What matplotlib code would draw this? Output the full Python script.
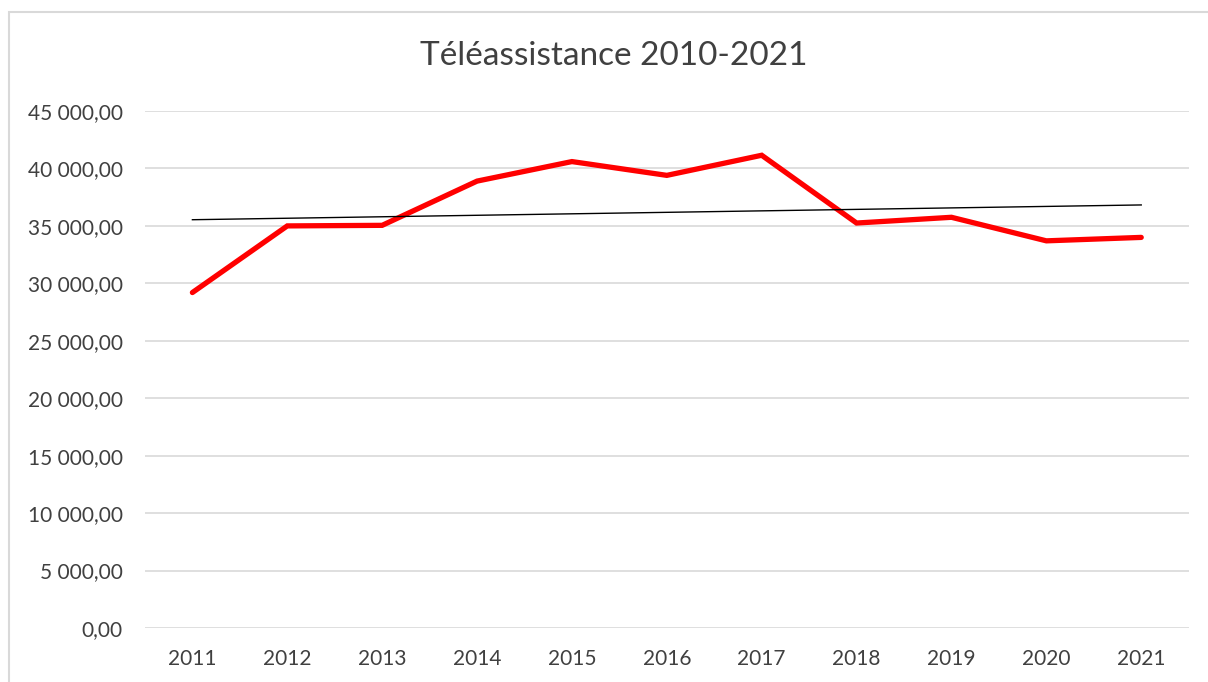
import numpy as np
import matplotlib.pyplot as plt
from matplotlib.patches import Rectangle
from matplotlib.ticker import FuncFormatter

years = ["2011", "2012", "2013", "2014", "2015", "2016",
         "2017", "2018", "2019", "2020", "2021"]
values = [29200, 35000, 35050, 38900, 40600, 39400,
          41150, 35250, 35750, 33700, 34000]
y_ticks = [0, 5000, 10000, 15000, 20000, 25000, 30000, 35000, 40000, 45000]

plt.rcParams['font.family'] = ['Lato', 'DejaVu Sans']
text_color = "#404040"


def fr_format(v, pos):
    # French style number: space for thousands, comma for decimals
    s = f"{v:,.2f}"
    return s.replace(",", " ").replace(".", ",")


fig = plt.figure(figsize=(12.08, 6.82), dpi=100)
ax = fig.add_axes([0.120, 0.0792, 0.864, 0.758])

x = np.arange(len(years))
ax.plot(x, values, color="#ff0000", linewidth=3.8,
        solid_capstyle="round", solid_joinstyle="miter", zorder=3)

# linear trend line like Excel's
slope, intercept = np.polyfit(x, values, 1)
ax.plot(x[[0, -1]], slope * x[[0, -1]] + intercept,
        color="black", linewidth=1.0, zorder=4)

ax.set_xlim(-0.5, len(years) - 0.5)
ax.set_ylim(0, 45000)
ax.set_xticks(x)
ax.set_xticklabels(years)
ax.set_yticks(y_ticks)
ax.yaxis.set_major_formatter(FuncFormatter(fr_format))
ax.grid(axis="y", color="#d9d9d9", linewidth=1.2, zorder=0)
ax.set_axisbelow(True)
for side in ["top", "right", "left", "bottom"]:
    ax.spines[side].set_visible(False)
ax.tick_params(axis="both", length=0, labelsize=15, colors=text_color)
ax.tick_params(axis="y", pad=16)
ax.tick_params(axis="x", pad=15)

fig.text(0.508, 0.918, "Téléassistance 2010-2021", ha="center", va="center",
         fontsize=24, color=text_color)

# chart frame, only left and top edges visible in the crop
fig.patches.append(Rectangle((0.0075, -0.1), 1.2, 1.0824,
                             transform=fig.transFigure, fill=False,
                             edgecolor="#d9d9d9", linewidth=1.5))

fig.savefig("out.png", dpi=100)
